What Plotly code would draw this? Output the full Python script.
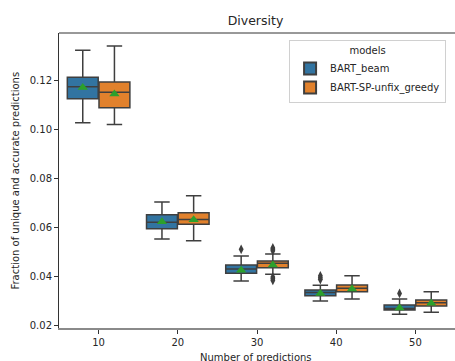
import plotly.graph_objects as go

# ---- data ----
categories = [10, 20, 30, 40, 50]
models = ["BART_beam", "BART-SP-unfix_greedy"]

beam_lower = [0.1026, 0.0551, 0.0380, 0.0298, 0.0244]
beam_q1 = [0.1124, 0.0593, 0.0411, 0.0320, 0.0261]
beam_median = [0.1173, 0.0620, 0.0429, 0.0333, 0.0268]
beam_q3 = [0.1211, 0.0650, 0.0445, 0.0343, 0.0282]
beam_upper = [0.1322, 0.0702, 0.0482, 0.0362, 0.0306]
beam_mean = [0.1170, 0.0622, 0.0424, 0.0329, 0.0270]
beam_outlier_cat = [30, 40, 40, 40, 50]
beam_outlier_val = [0.0509, 0.0401, 0.0393, 0.0386, 0.0329]

sp_lower = [0.1019, 0.0544, 0.0407, 0.0306, 0.0252]
sp_q1 = [0.1087, 0.0611, 0.0434, 0.0336, 0.0278]
sp_median = [0.1150, 0.0631, 0.0452, 0.0350, 0.0291]
sp_q3 = [0.1192, 0.0658, 0.0461, 0.0363, 0.0302]
sp_upper = [0.1339, 0.0728, 0.0490, 0.0401, 0.0336]
sp_mean = [0.1143, 0.0630, 0.0445, 0.0347, 0.0289]
sp_outlier_cat = [30, 30, 30, 30, 30, 30]
sp_outlier_val = [0.0515, 0.0509, 0.0503, 0.0396, 0.0389, 0.0382]

y_ticks = [0.02, 0.04, 0.06, 0.08, 0.10, 0.12]

# ---- style ----
DODGE = 2.0
BOX_W = 3.9
colors = ["#3274a1", "#e1812c"]
edge = "#3f3f3f"
font_family = "DejaVu Sans"

fig = go.Figure()

series = [
    (beam_lower, beam_q1, beam_median, beam_q3, beam_upper, beam_mean,
     beam_outlier_cat, beam_outlier_val, -DODGE),
    (sp_lower, sp_q1, sp_median, sp_q3, sp_upper, sp_mean,
     sp_outlier_cat, sp_outlier_val, DODGE),
]

for i, (lo, q1, med, q3, up, mean, ocat, oval, off) in enumerate(series):
    xs = [c + off for c in categories]
    fig.add_trace(go.Box(
        x=xs, q1=q1, median=med, q3=q3, lowerfence=lo, upperfence=up,
        name=models[i], width=BOX_W, whiskerwidth=0.5,
        fillcolor=colors[i], line=dict(color=edge, width=1.5),
        boxpoints=False, showlegend=True,
    ))
    fig.add_trace(go.Scatter(
        x=[c + off for c in ocat], y=oval, mode="markers",
        marker=dict(symbol="diamond-tall", size=7, color=edge),
        showlegend=False, hoverinfo="skip",
    ))
    fig.add_trace(go.Scatter(
        x=xs, y=mean, mode="markers",
        marker=dict(symbol="triangle-up", size=9, color="#2ca02c"),
        showlegend=False, hoverinfo="skip",
    ))

fig.update_layout(
    width=455, height=361,
    margin=dict(l=59, r=0, t=33, b=33),
    plot_bgcolor="white", paper_bgcolor="white",
    boxmode="overlay",
    font=dict(family=font_family, size=10, color="#262626"),
    title=dict(text="Diversity", x=0.5615, xanchor="center", y=0.942,
               yanchor="middle", font=dict(size=12.5, color="#262626")),
    legend=dict(
        x=0.581, y=0.976, xanchor="left", yanchor="top",
        bgcolor="white", bordercolor="#d0d0d0", borderwidth=1,
        title=dict(text="models", side="top center", font=dict(size=10)),
        font=dict(size=10), tracegroupgap=0, itemsizing="constant",
    ),
    xaxis=dict(
        range=[5, 55], tickvals=categories,
        ticktext=[str(c) for c in categories],
        showgrid=False, zeroline=False,
        showline=True, linecolor="#8a8a8a", linewidth=2,
        ticks="outside", ticklen=4, tickcolor="#333", tickwidth=1,
    ),
    yaxis=dict(
        range=[0.0188, 0.1392], tickvals=y_ticks, tickformat=".2f",
        showgrid=False, zeroline=False,
        showline=True, linecolor="#333", linewidth=1,
        ticks="outside", ticklen=4, tickcolor="#333", tickwidth=1,
    ),
    shapes=[dict(type="line", xref="paper", yref="paper", x0=0, x1=1,
                 y0=1, y1=1, line=dict(color="#333", width=1))],
    annotations=[
        dict(text="Fraction of unique and accurate predictions",
             xref="paper", yref="paper", x=-0.111, y=0.5, textangle=-90,
             showarrow=False, xanchor="center", yanchor="middle",
             font=dict(size=10)),
        dict(text="Number of predictions", xref="paper", yref="paper",
             x=0.497, y=-0.1, showarrow=False, xanchor="center",
             yanchor="middle", font=dict(size=10)),
    ],
)

fig.write_html(
    "out.html",
    config={"displayModeBar": False},
    post_script="document.body.style.margin='0';document.body.style.overflow='hidden';",
)
